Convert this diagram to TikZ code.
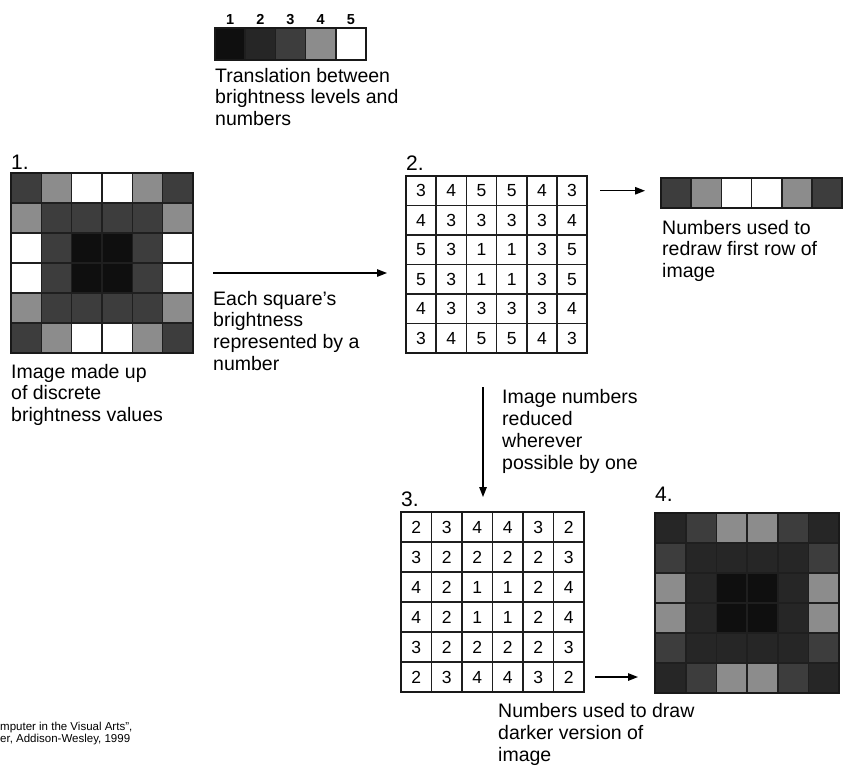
\documentclass[tikz,border=0pt]{standalone}
\usepackage{fontspec}
\setmainfont{Liberation Sans}
\usetikzlibrary{arrows.meta}
\definecolor{lv1}{gray}{0.06}
\definecolor{lv2}{gray}{0.15}
\definecolor{lv3}{gray}{0.24}
\definecolor{lv4}{gray}{0.55}
\definecolor{lv5}{gray}{1.0}
\begin{document}
\begin{tikzpicture}[x=1pt,y=-1pt,
  cell/.style={draw=black!88, line width=1.6pt, inner sep=0pt, outer sep=0pt,
               minimum width=30.3pt, minimum height=30pt},
  num/.style={font=\fontsize{17.5}{19}\selectfont},
  lbl/.style={font=\fontsize{19.5}{21.7}\selectfont, align=left, anchor=base west, inner sep=0pt},
  tagl/.style={font=\fontsize{21}{24}\selectfont, anchor=base west, inner sep=0pt},
  arr/.style={-{Triangle[length=10pt,width=7.5pt]}, line width=1.3pt},
  frame/.style={draw=black!90, line width=2pt}]
\useasboundingbox (0,0) rectangle (850,774);

% legend
\foreach \v in {1,...,5} {
  \node[cell, fill=lv\v, minimum width=30.2pt, minimum height=32pt] (lg-\v) at ({215+(\v-0.5)*30.2},44) {};
  \node[font=\bfseries\fontsize{14.5}{15}\selectfont, anchor=base, inner sep=0pt] (lgn-\v) at ({215+(\v-0.5)*30.2},24) {\v};
}
\draw[frame] (lg-1.north west) rectangle (lg-5.south east);
% base anchor of a multi-line node = baseline of its last line
\node[lbl] (legtxt) at (215,125.4) {Translation between\\brightness levels and\\numbers};

% grids
\foreach \row [count=\r] in {{3,4,5,5,4,3},{4,3,3,3,3,4},{5,3,1,1,3,5},{5,3,1,1,3,5},{4,3,3,3,3,4},{3,4,5,5,4,3}} {
  \foreach \v [count=\c] in \row {
    \pgfmathtruncatemacro\w{max(\v-1,1)}
    \node[cell, fill=lv\v, minimum width=30.33pt, minimum height=30pt] (ga-\r-\c) at ({11+(\c-0.5)*30.33},{173+(\r-0.5)*30}) {};
    \node[cell, num, minimum width=30.2pt, minimum height=29.5pt] (gb-\r-\c) at ({406+(\c-0.5)*30.2},{176+(\r-0.5)*29.5}) {\v};
    \node[cell, num, minimum width=30.5pt, minimum height=30pt] (gc-\r-\c) at ({401+(\c-0.5)*30.5},{512+(\r-0.5)*30}) {\w};
    \node[cell, fill=lv\w, minimum width=30.7pt, minimum height=30pt] (gd-\r-\c) at ({655+(\c-0.5)*30.7},{513+(\r-0.5)*30}) {};
  }
}
\draw[frame] (ga-1-1.north west) rectangle (ga-6-6.south east);
\draw[frame] (gb-1-1.north west) rectangle (gb-6-6.south east);
\draw[frame] (gc-1-1.north west) rectangle (gc-6-6.south east);
\draw[frame] (gd-1-1.north west) rectangle (gd-6-6.south east);

% strip
\foreach \v [count=\c] in {3,4,5,5,4,3} {
  \node[cell, fill=lv\v, minimum width=30.2pt, minimum height=30pt] (st-\c) at ({661+(\c-0.5)*30.2},193) {};
}
\draw[frame] (st-1.north west) rectangle (st-6.south east);

% tags
\node[tagl] (t1) at (11,169) {1.};
\node[tagl] (t2) at (406,170) {2.};
\node[tagl] (t3) at (401,506) {3.};
\node[tagl] (t4) at (655,501) {4.};

% labels
\node[lbl] (l1) at (11,421.4) {Image made up\\of discrete\\brightness values};
\node[lbl] (l2) at (213,370.1) {Each square's\\brightness\\represented by a\\number};
\node[lbl] (l3) at (662,277.4) {Numbers used to\\redraw first row of\\image};
\node[lbl, font=\fontsize{19.5}{22}\selectfont] (l4) at (502,469) {Image numbers\\reduced\\wherever\\possible by one};
\node[lbl, font=\fontsize{19.5}{22}\selectfont] (l5) at (498,761) {Numbers used to draw\\darker version of\\image};
\node[anchor=base west, inner sep=0pt, align=left, font=\fontsize{11.5}{10.5}\selectfont] (src) at (0,742.5) {mputer in the Visual Arts”,\\er, Addison-Wesley, 1999};

% connectors
\coordinate (a1s) at (213,273);
\coordinate (a1e) at (387,273);
\draw[arr] (a1s) -- (a1e);
\draw[arr] ([xshift=13pt]gb-1-6.east) -- ([xshift=-16pt]gb-1-6.east -| st-1.west);
\coordinate (a3s) at (483,387);
\coordinate (a3e) at (483,497);
\draw[arr] (a3s) -- (a3e);
\draw[arr] ([xshift=11pt]gc-6-6.east) -- ([xshift=-17pt]gc-6-6.east -| gd-6-1.west);
\end{tikzpicture}
\end{document}
